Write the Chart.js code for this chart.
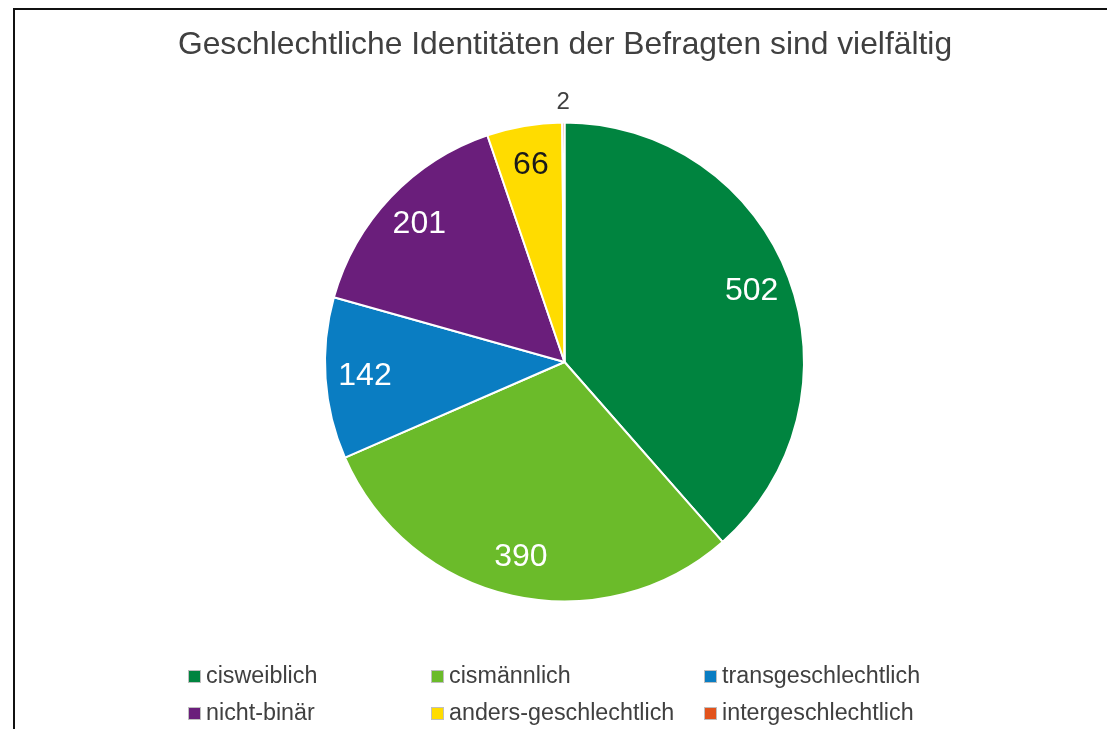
<!DOCTYPE html>
<html>
<head>
<meta charset="utf-8">
<script src="https://cdn.jsdelivr.net/npm/chart.js@4"></script>
<style>
    html, body { margin: 0; padding: 0; background: #fff; }
    #wrap { position: relative; width: 1107px; height: 729px; overflow: hidden; }
    #rahmen { position: absolute; left: 13px; top: 8px; width: 1200px; height: 800px;
              border-top: 2px solid #111; border-left: 2px solid #111; }
    #grafico { position: absolute; left: 0; top: 0; }
</style>
</head>
<body>
<div id="wrap">
    <div id="rahmen"></div>
    <canvas id="grafico" width="1107" height="729"></canvas>
</div>
<script>
const titulo = 'Geschlechtliche Identitäten der Befragten sind vielfältig';
const categorias = ['cisweiblich', 'cismännlich', 'transgeschlechtlich', 'nicht-binär', 'anders-geschlechtlich', 'intergeschlechtlich'];
const valores = [502, 390, 142, 201, 66, 2];
const cores = ['#00843F', '#6BBB2A', '#0A7DC2', '#6A1E7B', '#FFDC00', '#E2531C'];
const coresRotulo = ['#ffffff', '#ffffff', '#ffffff', '#ffffff', '#1a1a1a', '#404040'];

const fonte = '"Liberation Sans", Arial, sans-serif';

// título desenhado à mão (o plugin de título comprime o texto na largura da área)
const tituloPlugin = {
    id: 'tituloLivre',
    afterDraw(chart) {
        const ctx = chart.ctx;
        ctx.save();
        ctx.font = '31.8px ' + fonte;
        ctx.fillStyle = '#404040';
        ctx.textAlign = 'center';
        ctx.textBaseline = 'middle';
        ctx.fillText(titulo, 565, 45);
        ctx.restore();
    }
};

// rótulos de dados sobre as fatias
const rotulosPlugin = {
    id: 'rotulos',
    afterDatasetsDraw(chart) {
        const ctx = chart.ctx;
        const arcos = chart.getDatasetMeta(0).data;
        ctx.save();
        ctx.textAlign = 'center';
        ctx.textBaseline = 'middle';
        arcos.forEach((arco, i) => {
            const { x, y, startAngle, endAngle, outerRadius } = arco.getProps(['x', 'y', 'startAngle', 'endAngle', 'outerRadius'], true);
            const meio = (startAngle + endAngle) / 2;
            const pequeno = (endAngle - startAngle) < 0.05;
            const r = pequeno ? outerRadius + 20 : outerRadius * 0.835;
            ctx.font = (pequeno ? '24px ' : '32px ') + fonte;
            ctx.fillStyle = coresRotulo[i];
            ctx.fillText(String(valores[i]), x + Math.cos(meio) * r, y + Math.sin(meio) * r);
        });
        ctx.restore();
    }
};

// legenda em 3 colunas, 2 linhas
const legendaPlugin = {
    id: 'legendaGrade',
    afterDraw(chart) {
        const ctx = chart.ctx;
        const colunas = [189, 432, 705];
        const linhas = [676, 713];
        ctx.save();
        ctx.font = '23.3px ' + fonte;
        ctx.textBaseline = 'middle';
        ctx.textAlign = 'left';
        chart.data.labels.forEach((rotulo, i) => {
            const x = colunas[i % 3];
            const y = linhas[Math.floor(i / 3)];
            ctx.fillStyle = cores[i];
            ctx.fillRect(x, y - 5, 11, 11);
            ctx.strokeStyle = '#bfbfbf';
            ctx.lineWidth = 1;
            ctx.strokeRect(x - 0.5, y - 5.5, 12, 12);
            ctx.fillStyle = '#404040';
            ctx.fillText(rotulo, x + 17, y + 1);
        });
        ctx.restore();
    }
};

const ctx = document.getElementById('grafico').getContext('2d');
window.meuGrafico = new Chart(ctx, {
    type: 'pie',
    data: {
        labels: categorias,
        datasets: [{
            data: valores,
            backgroundColor: cores,
            borderColor: '#ffffff',
            borderWidth: 2
        }]
    },
    options: {
        responsive: false,
        animation: false,
        layout: { padding: { top: 121, bottom: 126, left: 324, right: 302 } },
        plugins: {
            legend: { display: false },
            tooltip: { enabled: false },
            title: { display: false }
        }
    },
    plugins: [tituloPlugin, rotulosPlugin, legendaPlugin]
});
</script>
</body>
</html>
